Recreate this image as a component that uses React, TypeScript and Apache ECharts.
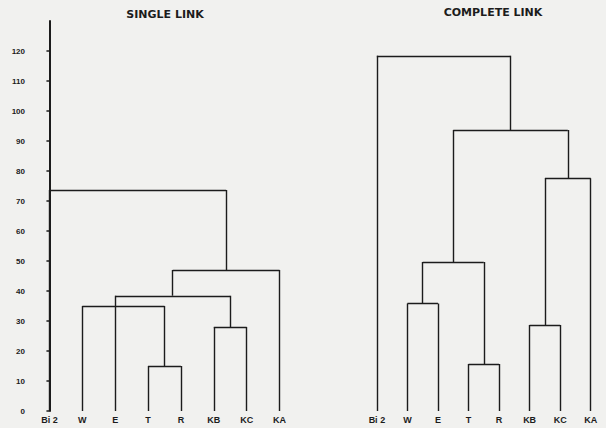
import React, { useEffect, useRef } from "react";
import * as echarts from "echarts";

const leaves = ["Bi 2", "W", "E", "T", "R", "KB", "KC", "KA"];
const yTicks = [0, 10, 20, 30, 40, 50, 60, 70, 80, 90, 100, 110, 120];

// merges: children node ids (leaves 0..7, merged nodes 8+), merge heights
const singleChildren = [[3, 4], [5, 6], [1, 2, 8], [10, 9], [11, 7], [0, 12]];
const singleHeights = [15, 28, 35, 38.4, 47, 73.7];

const completeChildren = [[3, 4], [1, 2], [5, 6], [9, 8], [10, 7], [11, 12], [0, 13]];
const completeHeights = [15.7, 35.8, 28.7, 49.7, 77.6, 93.7, 118.4];

const titles = ["SINGLE LINK", "COMPLETE LINK"];

function buildSegments(children: number[][], heights: number[]) {
  const pos: number[] = leaves.map((_, i) => i);
  const h: number[] = leaves.map(() => 0);
  const segs: { coords: number[][] }[] = [];
  children.forEach((ch, k) => {
    const H = heights[k];
    const xs = ch.map((c) => pos[c]);
    ch.forEach((c, i) => {
      segs.push({ coords: [[xs[i], h[c]], [xs[i], H]] });
    });
    const lo = Math.min(...xs);
    const hi = Math.max(...xs);
    segs.push({ coords: [[lo, H], [hi, H]] });
    const p = xs.length % 2 === 1 ? xs[(xs.length - 1) / 2] : (xs[0] + xs[xs.length - 1]) / 2;
    pos.push(p);
    h.push(H);
  });
  return segs;
}

export default function App() {
  const ref = useRef<HTMLDivElement>(null);
  useEffect(() => {
    if (!ref.current) return;
    const chart = echarts.init(ref.current, null, { renderer: "svg" });
    const ink = "#1c1c1c";
    const font = "Liberation Sans";
    const xAxisBase = (gridIndex: number) => ({
      type: "value" as const,
      gridIndex,
      min: -0.5,
      max: 7.5,
      splitLine: { show: false },
      axisLine: { show: false },
      axisTick: { show: false },
      axisLabel: {
        customValues: leaves.map((_, i) => i),
        formatter: (v: number) => leaves[Math.round(v)] ?? "",
        color: ink,
        fontFamily: font,
        fontWeight: "bold" as const,
        fontSize: 9,
        margin: 4,
      },
    });
    chart.setOption({
      animation: false,
      backgroundColor: "#f1f1ef",
      title: [
        {
          text: titles[0],
          left: 160,
          top: 4,
          textAlign: "center",
          textStyle: { fontFamily: "DejaVu Sans", fontWeight: "bold", fontSize: 11, color: ink },
        },
        {
          text: titles[1],
          left: 488,
          top: 2,
          textAlign: "center",
          textStyle: { fontFamily: "DejaVu Sans", fontWeight: "bold", fontSize: 11, color: ink },
        },
      ],
      grid: [
        { left: 33, top: 21, height: 390, width: 263 },
        { left: 361.6, top: 21, height: 390, width: 251.4 },
      ],
      xAxis: [xAxisBase(0), xAxisBase(1)],
      yAxis: [
        {
          type: "value",
          gridIndex: 0,
          min: 0,
          max: 130,
          interval: 10,
          splitLine: { show: false },
          axisLine: { show: true, lineStyle: { color: ink, width: 2 } },
          axisTick: { show: true, customValues: yTicks, length: 3, lineStyle: { color: ink, width: 1.5 } },
          axisLabel: {
            customValues: yTicks,
            formatter: (v: number) => (v > 120 ? "" : String(v)),
            color: ink,
            fontFamily: font,
            fontWeight: "bold",
            fontSize: 8,
            margin: 8,
          },
        },
        {
          type: "value",
          gridIndex: 1,
          min: 0,
          max: 130,
          show: false,
          splitLine: { show: false },
        },
      ],
      series: [
        {
          type: "lines",
          coordinateSystem: "cartesian2d",
          xAxisIndex: 0,
          yAxisIndex: 0,
          polyline: false,
          lineStyle: { color: ink, width: 1.4, opacity: 1 },
          data: buildSegments(singleChildren, singleHeights),
        },
        {
          type: "lines",
          coordinateSystem: "cartesian2d",
          xAxisIndex: 1,
          yAxisIndex: 1,
          polyline: false,
          lineStyle: { color: ink, width: 1.4, opacity: 1 },
          data: buildSegments(completeChildren, completeHeights),
        },
      ],
    });
    return () => chart.dispose();
  }, []);
  return (
    <div
      ref={ref}
      style={{ position: "fixed", left: 0, top: 0, width: 606, height: 428 }}
    />
  );
}
